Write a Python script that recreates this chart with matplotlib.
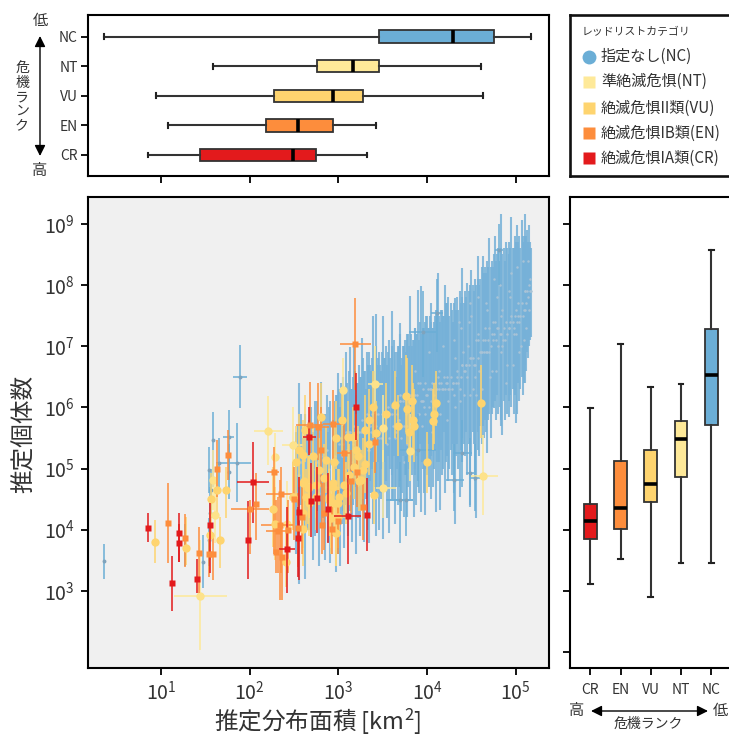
import numpy as np
import matplotlib
matplotlib.use('Agg')
from matplotlib import pyplot as plt
from matplotlib.ticker import LogFormatterMathtext, NullFormatter

plt.rcParams['font.family'] = ['Noto Sans CJK JP', 'DejaVu Sans']
plt.rcParams['mathtext.default'] = 'regular'
plt.rcParams['axes.linewidth'] = 1.5
plt.rcParams['text.color'] = '#333333'

W, H = 729, 738

# colours per red list category
COL = {'NC': '#6BAED6', 'NT': '#FEE999', 'VU': '#FED46F', 'EN': '#FD8D3C', 'CR': '#E31A1C'}

# box summaries, log10 values
cats_top = ['CR', 'EN', 'VU', 'NT', 'NC']
area_lo = [0.852, 1.078, 0.94, 1.586, 0.359]
area_q1 = [1.444, 2.19, 2.28, 2.76, 3.46]
area_med = [2.49, 2.545, 2.94, 3.163, 4.29]
area_q3 = [2.75, 2.94, 3.28, 3.46, 4.75]
area_hi = [3.326, 3.425, 4.636, 4.61, 5.17]

pop_lo = [3.115, 3.527, 2.9, 3.458, 3.458]
pop_q1 = [3.842, 4.008, 4.461, 4.857, 5.716]
pop_med = [4.146, 4.353, 4.748, 5.481, 6.53]
pop_q3 = [4.427, 5.12, 5.304, 5.774, 7.287]
pop_hi = [5.99, 7.03, 6.33, 6.387, 8.576]

# scatter, log10 area x, log10 population y, y interval
cr_x = [0.852, 1.205, 1.205, 1.126, 1.411, 1.55, 2.038, 1.982, 2.673, 2.696, 2.76, 2.557, 2.549, 2.425, 2.88, 3.109, 3.319, 3.195]
cr_y = [4.028, 3.941, 3.788, 3.122, 3.199, 4.077, 4.776, 3.837, 5.518, 4.465, 4.514, 4.285, 3.87, 3.684, 4.339, 4.219, 4.246, 6.0]
cr_lo = [3.793, 3.477, 3.48, 2.675, 2.96, 3.29, 4.105, 3.2, 5.223, 3.886, 3.94, 3.18, 3.23, 2.96, 3.777, 3.44, 3.65, 5.47]
cr_hi = [4.268, 4.279, 4.1, 3.57, 3.53, 4.43, 5.44, 4.465, 6.015, 5.087, 5.03, 4.87, 4.38, 4.38, 4.92, 4.9, 4.84, 6.56]
cr_xlo = [0.852, 1.205, 1.205, 1.126, 1.411, 1.55, 1.854, 1.982, 2.598, 2.696, 2.76, 2.557, 2.549, 2.335, 2.88, 2.955, 3.319, 3.195]
cr_xhi = [0.852, 1.205, 1.205, 1.126, 1.411, 1.55, 2.222, 1.982, 2.748, 2.696, 2.76, 2.557, 2.549, 2.512, 2.88, 3.255, 3.319, 3.195]

en_x = [1.081, 1.272, 1.426, 1.539, 1.584, 1.629, 1.753, 2.072, 2.005, 2.275, 2.358, 2.343, 2.324, 2.298, 2.365, 2.437, 2.497, 2.549, 2.587, 2.681, 2.775, 2.801, 2.944, 2.816, 2.842, 2.925, 2.993, 3.064, 3.139, 3.214, 3.274, 3.417, 3.19]
en_y = [4.11, 3.87, 3.613, 3.608, 3.608, 4.994, 5.229, 4.421, 4.334, 4.945, 4.585, 4.077, 3.979, 3.64, 3.548, 3.995, 4.503, 4.023, 4.214, 5.709, 5.687, 5.305, 5.731, 4.077, 4.268, 4.017, 4.148, 5.261, 4.803, 4.95, 4.377, 5.44, 7.04]
en_lo = [3.45, 3.395, 2.96, 3.23, 3.18, 4.54, 4.81, 3.83, 3.61, 3.61, 3.29, 2.85, 3.29, 3.29, 2.85, 3.29, 3.83, 3.395, 3.61, 5.25, 5.14, 4.705, 5.14, 3.61, 3.67, 3.61, 3.61, 4.596, 4.27, 4.38, 3.83, 4.92, 6.29]
en_hi = [4.759, 4.257, 4.05, 3.94, 3.94, 5.47, 5.63, 4.92, 4.49, 5.36, 5.03, 4.81, 4.54, 4.49, 4.05, 4.49, 5.03, 4.6, 4.71, 6.42, 6.4, 6.015, 6.29, 4.76, 4.81, 4.54, 4.65, 5.74, 5.3, 5.47, 4.81, 5.96, 7.79]
en_xlo = [1.081, 1.272, 1.426, 1.539, 1.584, 1.629, 1.753, 2.072, 1.79, 2.2, 2.185, 2.13, 2.185, 2.298, 2.365, 2.437, 2.497, 2.549, 2.587, 2.523, 2.636, 2.801, 2.823, 2.816, 2.842, 2.925, 2.993, 2.99, 3.139, 3.214, 3.274, 3.417, 3.02]
en_xhi = [1.081, 1.272, 1.426, 1.539, 1.584, 1.629, 1.753, 2.072, 2.22, 2.335, 2.485, 2.485, 2.448, 2.298, 2.365, 2.437, 2.497, 2.549, 2.587, 2.823, 2.9, 2.801, 3.05, 2.816, 2.842, 2.925, 2.993, 3.14, 3.139, 3.214, 3.274, 3.417, 3.37]

vu_x = [0.938, 1.28, 1.667, 1.558, 1.565, 1.637, 1.738, 2.268, 2.41, 2.286, 2.597, 2.523, 2.598, 2.628, 2.805, 3.642, 3.387, 3.774, 3.83, 3.762, 4.097, 4.063, 4.082, 3.669, 3.856, 3.8, 3.838, 2.974, 3.041, 3.105, 3.304, 3.199, 3.218, 2.955, 2.861, 3.304, 3.274, 3.237, 3.086, 3.405, 4.0, 2.673, 2.598, 2.636, 2.748, 2.936, 2.993, 2.9, 2.598, 2.485, 4.608]
vu_y = [3.804, 3.706, 3.83, 3.91, 4.5, 4.65, 4.645, 4.339, 3.466, 4.094, 4.02, 5.11, 5.22, 5.63, 5.85, 6.04, 6.015, 5.97, 6.11, 6.18, 6.08, 5.77, 5.9, 5.7, 5.7, 5.6, 5.8, 5.5, 5.8, 5.51, 5.63, 5.3, 5.2, 5.11, 5.14, 5.08, 4.98, 4.79, 4.6, 4.57, 5.11, 4.7, 4.76, 4.54, 4.54, 4.7, 4.43, 4.49, 4.27, 4.54, 6.08]
vu_lo = [3.45, 3.42, 3.37, 3.5, 3.9, 4.19, 4.19, 3.72, 3.07, 3.5, 3.4, 4.5, 4.6, 5.1, 5.3, 5.5, 5.5, 5.4, 5.6, 5.6, 5.7, 5.3, 5.4, 5.2, 5.1, 5.1, 5.3, 5.0, 5.2, 5.0, 5.1, 4.8, 4.7, 4.6, 4.6, 4.6, 4.5, 4.3, 4.1, 4.1, 4.6, 4.2, 4.2, 4.0, 4.0, 4.2, 3.9, 3.9, 3.7, 4.0, 5.5]
vu_hi = [4.16, 4.21, 4.21, 4.3, 4.92, 5.09, 5.03, 5.03, 4.05, 4.7, 4.6, 5.7, 5.8, 6.2, 6.4, 6.6, 6.6, 6.8, 6.7, 6.85, 6.6, 6.3, 6.4, 6.2, 6.3, 6.2, 6.4, 6.1, 6.3, 6.1, 6.2, 5.9, 5.7, 5.7, 5.7, 5.6, 5.5, 5.3, 5.1, 5.1, 5.6, 5.2, 5.3, 5.0, 5.1, 5.3, 5.0, 5.0, 4.8, 5.1, 6.7]

# more VU points from the crowded middle of the cloud
vu2_x = [3.162, 2.786, 2.617, 2.655, 2.937, 3.068, 3.256, 2.899, 3.012, 2.674, 2.955, 2.486, 2.993, 2.918, 2.974, 2.749, 2.843, 3.124, 3.18, 2.561, 2.711, 3.35, 3.425, 3.35, 3.54]
vu2_y = [5.52, 4.98, 4.79, 4.68, 4.76, 4.73, 4.81, 4.54, 4.54, 4.43, 4.43, 4.54, 4.21, 4.19, 3.94, 4.73, 4.84, 4.9, 5.03, 5.3, 5.2, 5.41, 5.58, 5.8, 5.9]
vu2_lo = [5.0, 4.4, 4.2, 4.1, 4.2, 4.2, 4.3, 3.9, 4.0, 3.9, 3.9, 4.0, 3.7, 3.6, 3.4, 4.2, 4.3, 4.4, 4.5, 4.7, 4.7, 4.9, 5.1, 5.3, 5.4]
vu2_hi = [6.0, 5.5, 5.3, 5.2, 5.3, 5.2, 5.3, 5.1, 5.0, 4.9, 5.0, 5.1, 4.7, 4.7, 4.4, 5.2, 5.4, 5.4, 5.6, 5.9, 5.7, 5.9, 6.1, 6.3, 6.4]

nt_x = [1.437, 2.211, 2.283, 2.485, 2.421, 1.614, 1.584, 3.05, 3.417, 3.5, 3.5, 3.807, 2.974, 2.917, 2.673, 4.628]
nt_y = [2.91, 5.611, 5.196, 5.38, 4.1, 4.24, 4.81, 6.29, 6.386, 5.66, 4.69, 5.28, 3.94, 4.19, 4.7, 4.879]
nt_lo = [2.03, 5.06, 4.54, 4.7, 3.5, 3.78, 4.32, 5.7, 5.9, 5.1, 4.2, 4.8, 3.4, 3.7, 4.2, 4.24]
nt_hi = [3.83, 6.18, 5.58, 6.0, 4.8, 4.76, 5.3, 6.8, 7.0, 6.2, 5.3, 5.9, 4.4, 4.7, 5.2, 5.55]
nt_xlo = [1.152, 2.053, 2.283, 2.37, 2.421, 1.614, 1.584, 3.05, 3.33, 3.5, 3.425, 3.807, 2.974, 2.917, 2.673, 4.5]
nt_xhi = [1.745, 2.38, 2.283, 2.6, 2.421, 1.614, 1.584, 3.05, 3.5, 3.5, 3.65, 3.807, 2.974, 2.917, 2.673, 4.8]

# NC species with a clear horizontal bar or sitting apart from the cloud
ncw_x = [0.363, 1.896, 1.591, 1.546, 1.479, 1.276, 1.764, 1.858, 1.565, 1.554, 1.546, 1.764, 1.652, 3.95, 4.11, 4.31, 4.4, 3.76, 3.69, 4.485, 4.545, 3.9, 4.81]
ncw_y = [3.49, 6.5, 5.469, 4.97, 3.477, 3.886, 5.523, 5.098, 4.65, 4.27, 3.83, 4.95, 5.098, 7.24, 7.55, 4.81, 5.25, 4.49, 4.49, 4.93, 4.84, 5.3, 8.58]
ncw_lo = [3.2, 5.99, 4.7, 4.6, 3.04, 3.4, 4.81, 4.46, 4.2, 3.9, 3.4, 4.5, 4.7, 6.5, 6.9, 4.3, 4.7, 3.9, 3.78, 4.4, 4.3, 4.7, 8.0]
ncw_hi = [3.77, 7.02, 5.93, 5.36, 3.91, 4.1, 5.96, 5.74, 5.0, 4.7, 4.2, 5.4, 5.5, 7.9, 8.1, 5.4, 5.8, 5.2, 5.1, 5.5, 5.4, 5.9, 9.0]
ncw_xlo = [0.363, 1.817, 1.591, 1.546, 1.479, 1.276, 1.697, 1.62, 1.565, 1.554, 1.546, 1.764, 1.652, 3.8, 4.04, 4.21, 4.29, 3.54, 3.55, 4.44, 4.49, 3.7, 4.77]
ncw_xhi = [0.363, 1.967, 1.591, 1.546, 1.479, 1.276, 1.828, 2.016, 1.565, 1.554, 1.546, 1.764, 1.652, 4.1, 4.18, 4.42, 4.51, 3.84, 3.84, 4.53, 4.6, 4.1, 4.86]

# NC cloud, one entry per vertical bar
nc_x = [2.52, 2.56, 2.60, 2.63, 2.67, 2.71, 2.74, 2.78, 2.81, 2.85, 2.88, 2.91, 2.94, 2.97,
        3.00, 3.02, 3.04, 3.06, 3.09, 3.11, 3.13, 3.15, 3.18, 3.20, 3.22, 3.24, 3.27, 3.29, 3.31, 3.33, 3.35, 3.37, 3.39, 3.42, 3.44, 3.46, 3.48, 3.50, 3.53, 3.55, 3.57, 3.60,
        3.62, 3.64, 3.65, 3.67, 3.69, 3.71, 3.72, 3.74, 3.76, 3.78, 3.79, 3.81, 3.83, 3.85, 3.86, 3.88, 3.90, 3.91, 3.93, 3.95, 3.97, 3.98, 4.00, 4.02, 4.03, 4.05, 4.07, 4.08, 4.10, 4.12, 4.13, 4.15, 4.17, 4.18, 4.20, 4.21,
        4.23, 4.24, 4.25, 4.27, 4.28, 4.29, 4.30, 4.32, 4.33, 4.34,
        4.35, 4.37, 4.38, 4.39, 4.40, 4.42, 4.43, 4.44, 4.45, 4.47,
        4.48, 4.49, 4.50, 4.52, 4.53, 4.54, 4.55, 4.57, 4.58, 4.59,
        4.60, 4.62, 4.63, 4.64, 4.65, 4.67, 4.68, 4.69, 4.70, 4.72,
        4.73, 4.74, 4.75, 4.77, 4.78, 4.79, 4.80, 4.82, 4.83, 4.84,
        4.85, 4.87, 4.88, 4.89, 4.90, 4.92, 4.93, 4.94, 4.95, 4.97,
        4.98, 4.99, 5.00, 5.02, 5.03, 5.04, 5.05, 5.07, 5.08, 5.09,
        5.10, 5.11, 5.12, 5.13, 5.14, 5.15, 5.16, 5.17]
nc_lo = [3.6, 3.12, 3.9, 3.2, 4.0, 3.5, 3.9, 3.4, 4.1, 3.5, 3.8, 3.45, 3.9, 3.31,
         3.6, 3.4, 4.1, 3.7, 4.4, 3.9, 4.3, 3.8, 4.5, 3.61, 4.2, 3.9, 4.4, 3.8, 4.5, 4.0, 3.78, 4.6, 4.1, 3.9, 4.6, 4.0, 4.5, 3.85, 4.7, 4.2, 3.95, 4.5,
         4.5, 4.1, 4.7, 4.4, 4.8, 4.3, 4.6, 4.21, 4.9, 4.21, 4.7, 4.5, 4.9, 4.21, 5.0, 4.4, 4.8, 4.6, 4.29, 5.0, 4.6, 4.24, 4.9, 4.7, 5.1, 4.5, 4.7, 5.0, 4.29, 4.8, 5.1, 4.33, 4.9, 5.0, 4.6, 5.1,
         5.2, 4.8, 5.0, 5.3, 4.9, 5.4, 4.6, 4.1, 5.2, 5.4,
         5.0, 4.54, 5.3, 5.5, 5.1, 5.4, 5.2, 5.6, 4.9, 5.4,
         4.38, 5.5, 5.2, 5.6, 5.4, 4.8, 4.19, 5.6, 5.3, 5.2,
         5.7, 5.4, 5.7, 5.5, 5.8, 5.6, 5.25, 5.8, 5.9, 5.5,
         5.9, 6.0, 5.99, 6.1, 5.8, 6.2, 5.9, 6.0, 5.7, 5.8,
         5.55, 6.1, 5.8, 6.2, 5.9, 6.1, 5.85, 6.2, 6.0, 6.3,
         5.9, 6.2, 5.74, 5.9, 6.4, 6.1, 6.3, 6.5, 6.2, 6.4,
         6.4, 6.7, 6.6, 6.9, 6.8, 7.0, 7.1, 7.15]
nc_hi = [5.6, 6.4, 5.5, 5.9, 5.8, 5.6, 6.1, 5.7, 6.42, 5.9, 5.6, 6.1, 5.8, 6.2,
         6.56, 6.0, 6.2, 6.3, 6.9, 6.1, 6.99, 6.3, 6.99, 6.2, 6.4, 6.5, 7.13, 6.6, 6.3, 6.7, 6.9, 6.6, 7.49, 7.52, 6.7, 6.9, 6.6, 7.49, 6.8, 6.7, 7.1, 7.57,
         6.6, 6.9, 6.5, 7.0, 7.38, 6.7, 6.8, 7.0, 6.9, 7.1, 7.2, 7.82, 7.0, 7.1, 7.3, 7.2, 7.92, 7.1, 7.98, 7.2, 7.3, 7.4, 7.49, 7.3, 7.5, 7.71, 7.3, 7.4, 7.6, 8.2, 7.5, 7.4, 7.6, 7.5, 8.0, 7.7,
         7.6, 7.8, 7.5, 7.7, 7.6, 7.4, 7.7, 7.79, 7.6, 7.8,
         7.6, 7.9, 7.7, 7.8, 8.28, 7.7, 7.9, 7.8, 8.03, 7.9,
         7.9, 8.0, 8.25, 8.0, 7.9, 8.1, 8.0, 8.47, 8.1, 8.0,
         8.1, 8.3, 8.47, 8.2, 8.3, 8.2, 8.4, 8.3, 8.77, 8.3,
         8.4, 8.3, 8.5, 8.8, 8.4, 8.5, 8.6, 8.4, 8.6, 9.17,
         8.5, 8.6, 8.4, 8.7, 8.6, 8.5, 8.7, 8.6, 9.11, 8.6,
         8.6, 8.8, 8.7, 8.99, 8.7, 8.8, 8.6, 9.06, 8.8, 8.7,
         8.8, 9.16, 8.8, 8.9, 8.7, 8.99, 8.7, 8.6]
nc_y = [4.6, 4.9, 4.7, 4.6, 4.9, 4.5, 5.0, 4.6, 5.2, 4.7, 4.7, 4.8, 4.9, 4.8,
        5.1, 4.7, 5.2, 5.0, 5.6, 5.0, 5.6, 5.1, 5.7, 4.9, 5.3, 5.2, 5.8, 5.2, 5.4, 5.3, 5.3, 5.6, 5.8, 5.7, 5.6, 5.5, 5.5, 5.7, 5.7, 5.4, 5.5, 6.0,
        5.7, 5.5, 5.6, 5.8, 6.1, 5.5, 5.7, 5.7, 5.9, 5.7, 6.0, 6.2, 6.0, 5.7, 6.2, 5.8, 6.4, 5.9, 6.1, 6.1, 6.0, 5.9, 6.2, 6.0, 6.3, 6.1, 6.0, 6.2, 6.0, 6.5, 6.3, 5.9, 6.3, 6.3, 6.3, 6.4,
        6.4, 6.3, 6.3, 6.5, 6.3, 6.4, 6.2, 6.0, 6.4, 6.6,
        6.4, 6.3, 6.5, 6.7, 6.7, 6.6, 6.6, 6.7, 6.5, 6.7,
        6.2, 6.8, 6.8, 6.8, 6.7, 6.5, 6.2, 7.1, 6.8, 6.6,
        6.9, 6.9, 7.1, 6.9, 7.1, 6.9, 6.9, 7.1, 7.3, 7.0,
        7.2, 7.1, 7.2, 7.4, 7.1, 7.3, 7.3, 7.2, 7.2, 7.5,
        7.0, 7.3, 7.1, 7.4, 7.2, 7.3, 7.3, 7.4, 7.5, 7.4,
        7.3, 7.5, 7.2, 7.4, 7.5, 7.4, 7.5, 7.7, 7.5, 7.6,
        7.6, 7.9, 7.7, 7.9, 7.8, 8.0, 7.9, 7.9]

# second pass of NC bars, filling the core of the cloud
nc2_x = [2.54, 2.58, 2.65, 2.69, 2.76, 2.83, 2.87, 2.90, 2.96, 2.99, 3.01, 3.03, 3.05, 3.07, 3.10, 3.12, 3.14, 3.17, 3.19, 3.21, 3.23, 3.26, 3.28, 3.30, 3.32, 3.34, 3.36, 3.38, 3.41, 3.43, 3.45, 3.47, 3.49, 3.52, 3.54, 3.56, 3.58, 3.61, 3.63, 3.66, 3.68, 3.70, 3.73, 3.75, 3.77, 3.80, 3.82, 3.84, 3.87, 3.89, 3.92, 3.94, 3.96, 3.99, 4.01, 4.04, 4.06, 4.09, 4.11, 4.14, 4.16, 4.19, 4.22]
nc2_lo = [4.1, 4.4, 4.0, 4.5, 4.3, 4.2, 4.5, 4.1, 4.4, 4.0, 4.5, 4.6, 4.3, 4.7, 4.2, 4.6, 4.8, 4.4, 4.7, 4.9, 4.5, 4.8, 4.4, 4.9, 5.0, 4.6, 4.8, 5.0, 4.7, 4.9, 5.1, 4.6, 5.0, 5.1, 4.8, 5.2, 5.0, 4.9, 5.2, 5.0, 4.7, 5.1, 5.2, 4.9, 5.3, 5.0, 5.2, 5.3, 4.9, 5.2, 5.4, 5.1, 5.3, 5.0, 5.4, 5.2, 5.5, 5.3, 5.1, 5.5, 5.3, 5.6, 5.4]
nc2_hi = [5.7, 5.9, 5.7, 6.0, 6.1, 5.9, 6.2, 6.0, 6.1, 6.2, 6.3, 6.4, 6.5, 6.2, 6.4, 6.6, 6.3, 6.5, 6.6, 6.4, 6.7, 6.5, 6.8, 6.6, 6.9, 6.6, 6.7, 6.8, 6.6, 7.0, 6.8, 6.7, 6.9, 6.8, 7.0, 6.9, 6.8, 7.0, 7.1, 6.9, 7.0, 7.2, 7.0, 7.1, 7.2, 7.0, 7.2, 7.1, 7.3, 7.2, 7.4, 7.2, 7.3, 7.5, 7.3, 7.4, 7.3, 7.5, 7.6, 7.4, 7.6, 7.5, 7.7]
nc2_y = [4.9, 5.1, 4.8, 5.2, 5.1, 5.0, 5.3, 5.0, 5.2, 5.1, 5.4, 5.5, 5.4, 5.5, 5.3, 5.6, 5.5, 5.4, 5.6, 5.6, 5.6, 5.6, 5.6, 5.7, 5.9, 5.6, 5.7, 5.9, 5.7, 5.9, 5.9, 5.6, 5.9, 5.9, 5.9, 6.0, 5.9, 5.9, 6.1, 5.9, 5.8, 6.1, 6.1, 6.0, 6.2, 6.0, 6.2, 6.2, 6.1, 6.2, 6.4, 6.1, 6.3, 6.2, 6.3, 6.3, 6.4, 6.4, 6.3, 6.4, 6.4, 6.5, 6.5]

# pale dots scattered over the dense part of the cloud
dot_x = [4.3, 4.34, 4.38, 4.42, 4.46, 4.5, 4.54, 4.58, 4.62, 4.66, 4.7, 4.74, 4.78, 4.82, 4.86, 4.9, 4.94, 4.98, 5.02, 5.06, 5.1, 5.14,
         4.32, 4.37, 4.41, 4.47, 4.52, 4.57, 4.61, 4.65, 4.71, 4.76, 4.8, 4.85, 4.89, 4.95, 5.0, 5.04, 5.08, 5.12, 5.16,
         4.29, 4.36, 4.44, 4.49, 4.55, 4.6, 4.68, 4.73, 4.79, 4.84, 4.92, 4.97, 5.03, 5.09, 5.15,
         3.7, 3.78, 3.86, 3.94, 4.02, 4.1, 4.18, 4.24, 3.74, 3.82, 3.9, 3.98, 4.06, 4.14, 4.22]
dot_y = [7.1, 6.5, 7.3, 6.2, 7.0, 7.5, 6.7, 7.2, 6.3, 7.7, 6.9, 7.4, 6.6, 8.0, 7.1, 6.7, 7.8, 7.2, 8.3, 7.0, 7.9, 8.4,
         6.8, 6.1, 6.9, 7.4, 6.3, 7.8, 6.9, 7.3, 6.5, 8.1, 7.0, 7.6, 6.4, 8.2, 7.6, 6.9, 8.4, 7.3, 8.1,
         6.4, 7.4, 6.7, 7.7, 7.1, 6.1, 7.6, 6.6, 7.8, 6.9, 7.9, 6.7, 7.7, 7.1, 7.6,
         6.2, 5.4, 6.6, 5.7, 6.9, 5.9, 7.0, 6.1, 5.1, 6.0, 5.3, 6.4, 5.6, 6.6, 5.8]

legend_labels = ['指定なし(NC)', '準絶滅危惧(NT)', '絶滅危惧II類(VU)', '絶滅危惧IB類(EN)', '絶滅危惧IA類(CR)']
legend_cats = ['NC', 'NT', 'VU', 'EN', 'CR']


def box_px(left, top, right, bottom):
    return [left / W, 1 - bottom / H, (right - left) / W, (bottom - top) / H]


def fpx(x, y):
    return x / W, 1 - y / H


def pow10(v):
    return 10.0 ** np.array(v, dtype=float)


def bars(ax, x, y, lo, hi, color, xlo=None, xhi=None, lw=1.3, marker='o', ms=4.5, mc=None, z=2):
    x, y, lo, hi = pow10(x), pow10(y), pow10(lo), pow10(hi)
    xerr = None
    if xlo is not None:
        xerr = [x - pow10(xlo), pow10(xhi) - x]
    ax.errorbar(x, y, yerr=[y - lo, hi - y], xerr=xerr, fmt='none', ecolor=color, elinewidth=lw, alpha=0.85, zorder=z)
    ax.plot(x, y, ls='none', marker=marker, ms=ms, mfc=mc or color, mec='none', zorder=z + 0.5)


def boxes(ax, lo, q1, med, q3, hi, cats, vert, positions):
    stats = []
    vals = [pow10(v) for v in (lo, q1, med, q3, hi)]
    for i, c in enumerate(cats):
        stats.append(dict(whislo=vals[0][i], q1=vals[1][i], med=vals[2][i], q3=vals[3][i], whishi=vals[4][i], fliers=[], label=c))
    art = ax.bxp(stats, positions=positions, widths=0.42, vert=vert, patch_artist=True, showfliers=False,
                 medianprops=dict(color='black', lw=2.6, solid_capstyle='butt'),
                 whiskerprops=dict(color='#333333', lw=1.5), capprops=dict(color='#222222', lw=1.5),
                 boxprops=dict(edgecolor='#333333', lw=1.3), capwidths=0.16, manage_ticks=False)
    for b, c in zip(art['boxes'], cats):
        b.set_facecolor(COL[c])


fig = plt.figure(figsize=(W / 100, H / 100), dpi=100)

XLIM = (10 ** 0.172, 10 ** 5.37)
YLIM = (10 ** 1.74, 10 ** 9.44)

# main scatter
ax = fig.add_axes(box_px(87.5, 197, 548.5, 668))
ax.set_facecolor('#F0F0F0')
ax.set_xscale('log')
ax.set_yscale('log')
bars(ax, nc_x, nc_y, nc_lo, nc_hi, '#76B1D8', lw=1.5, ms=1.8, mc='#A9C3D6', z=2)
bars(ax, nc2_x, nc2_y, nc2_lo, nc2_hi, '#76B1D8', lw=1.5, ms=1.8, mc='#A9C3D6', z=2)
ax.plot(pow10(dot_x), pow10(dot_y), ls='none', marker='o', ms=1.8, mfc='#A9C3D6', mec='none', zorder=2.5)
bars(ax, ncw_x, ncw_y, ncw_lo, ncw_hi, COL['NC'], ncw_xlo, ncw_xhi, ms=2.8, mc='#7FA3BC', z=2.6)
bars(ax, nt_x, nt_y, nt_lo, nt_hi, COL['NT'], nt_xlo, nt_xhi, marker='o', ms=6, mc='#FDE28A', z=3)
bars(ax, vu_x, vu_y, vu_lo, vu_hi, COL['VU'], marker='o', ms=6, z=3.2)
bars(ax, vu2_x, vu2_y, vu2_lo, vu2_hi, COL['VU'], marker='o', ms=6, z=3.2)
bars(ax, en_x, en_y, en_lo, en_hi, COL['EN'], en_xlo, en_xhi, marker='s', ms=5, z=3.6)
bars(ax, cr_x, cr_y, cr_lo, cr_hi, COL['CR'], cr_xlo, cr_xhi, marker='s', ms=5, z=4)
ax.set_xlim(XLIM)
ax.set_ylim(YLIM)
ax.set_xticks(pow10([1, 2, 3, 4, 5]))
ax.set_yticks(pow10([3, 4, 5, 6, 7, 8, 9]))
ax.minorticks_off()
ax.xaxis.set_major_formatter(LogFormatterMathtext())
ax.yaxis.set_major_formatter(LogFormatterMathtext())
ax.tick_params(length=5, width=1.3, labelsize=14, labelcolor='#333333', pad=4)
fig.text(*fpx(318, 722), '推定分布面積 [km$^2$]', fontsize=17, ha='center', va='center')
fig.text(*fpx(24, 434), '推定個体数', fontsize=17, rotation=90, ha='center', va='center')

# top box plot
ax_top = fig.add_axes(box_px(87.5, 15, 548.5, 176))
ax_top.set_xscale('log')
boxes(ax_top, area_lo, area_q1, area_med, area_q3, area_hi, cats_top, False, list(range(5)))
ax_top.set_xlim(XLIM)
ax_top.set_ylim(-0.71, 4.73)
ax_top.set_xticks(pow10([1, 2, 3, 4, 5]))
ax_top.minorticks_off()
ax_top.xaxis.set_major_formatter(NullFormatter())
ax_top.set_yticks(range(5))
ax_top.set_yticklabels(cats_top)
ax_top.tick_params(length=5, width=1.3, labelsize=10, labelcolor='#333333', pad=2)

# right box plot, runs off the edge of the picture
ax_r = fig.add_axes(box_px(569.5, 197, 745, 668))
ax_r.set_yscale('log')
boxes(ax_r, pop_lo, pop_q1, pop_med, pop_q3, pop_hi, cats_top, True, list(range(5)))
ax_r.set_xlim(-0.69, 5.12)
ax_r.set_ylim(YLIM)
ax_r.set_yticks(pow10([2, 3, 4, 5, 6, 7, 8, 9]))
ax_r.minorticks_off()
ax_r.yaxis.set_major_formatter(NullFormatter())
ax_r.set_xticks(range(5))
ax_r.set_xticklabels(cats_top)
ax_r.tick_params(length=5, width=1.3, labelsize=10, labelcolor='#333333', pad=6)

# legend box
lax = fig.add_axes(box_px(569.5, 15, 760, 176))
lax.set_xlim(569.5, 760)
lax.set_ylim(176, 15)
lax.set_xticks([])
lax.set_yticks([])
for s in lax.spines.values():
    s.set_linewidth(1.9)
    s.set_color('#111111')
lax.text(582, 32, 'レッドリストカテゴリ', fontsize=7.8, va='center')
ly = [56.7, 81.7, 108, 133, 158]
for yy, c, t in zip(ly, legend_cats, legend_labels):
    lax.plot([588.5], [yy], ls='none', marker='o' if c == 'NC' else 's', ms=10 if c == 'NC' else 9, mfc=COL[c], mec='none')
    lax.text(601, yy, t, fontsize=10.9, va='center')

# risk arrows and side labels
arrow = dict(arrowstyle='<|-|>', color='black', lw=1.0, mutation_scale=16, shrinkA=0, shrinkB=0)
fig.add_artist(matplotlib.patches.FancyArrowPatch(fpx(40, 36), fpx(40, 156), transform=fig.transFigure, **arrow))
fig.add_artist(matplotlib.patches.FancyArrowPatch(fpx(591, 711), fpx(708, 711), transform=fig.transFigure, **arrow))
fig.text(*fpx(40, 21), '低', fontsize=11, ha='center', va='center')
fig.text(*fpx(40, 170), '高', fontsize=11, ha='center', va='center')
fig.text(*fpx(22, 97), '危\n機\nラ\nン\nク', fontsize=10, ha='center', va='center', linespacing=1.0)
fig.text(*fpx(577, 711), '高', fontsize=11, ha='center', va='center')
fig.text(*fpx(720, 711), '低', fontsize=11, ha='center', va='center')
fig.text(*fpx(648, 724), '危機ランク', fontsize=10, ha='center', va='center')

fig.savefig('out.png', dpi=100)
